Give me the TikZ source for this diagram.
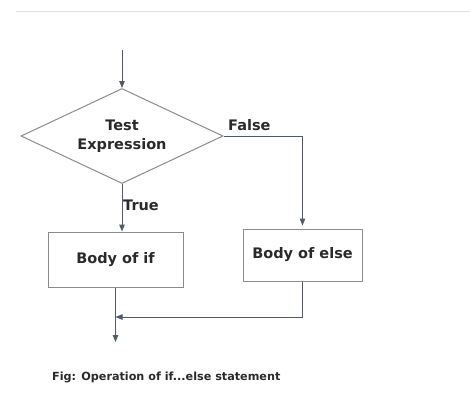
\documentclass[tikz,border=0pt]{standalone}
\usepackage{fontspec}
\setmainfont{DejaVu Sans}
\usetikzlibrary{shapes.geometric,arrows.meta}
\definecolor{linec}{HTML}{4F5A6B}
\definecolor{boxc}{HTML}{8C8C8C}
\definecolor{txtc}{HTML}{2A2A2A}
\tikzset{
  flow/.style={draw=linec, line width=1pt, -{Triangle[length=7pt,width=5.5pt]}},
  plain/.style={draw=linec, line width=1pt},
  boxnode/.style={draw=boxc, line width=1pt, rectangle, inner sep=0pt, font=\bfseries\fontsize{14.5}{17}\selectfont, text=txtc},
  lbl/.style={font=\bfseries\fontsize{14.5}{16}\selectfont, text=txtc, inner sep=0pt},
}
\begin{document}
\begin{tikzpicture}[x=1pt,y=-1pt]
\useasboundingbox (0,0) rectangle (470,408);
\draw[color=black!12, line width=1pt] (16,11) -- (470,11);
\node[boxnode, shape=diamond, aspect=2.13, minimum width=202pt, minimum height=95pt, align=center, font=\bfseries\fontsize{14.5}{19}\selectfont] (d) at (122,136) {Test\\Expression};
\node[boxnode, minimum width=135pt, minimum height=55pt] (bif) at (115.5,259.5) {Body of if};
\node[boxnode, minimum width=119pt, minimum height=52pt] (belse) at (302.5,255) {Body of else};
\coordinate (start) at (122,50);
\coordinate (merge) at (115.5,317);
\coordinate (out) at (115.5,342);
\draw[flow] (start) -- (d.north);
\draw[flow] (d.south) -- (d.south |- bif.north);
\draw[flow, shorten >=3pt] (d.east) -| (belse.north);
\draw[plain] (bif.south) -- (merge);
\draw[flow] (merge) -- (out);
\draw[flow] (belse.south) |- (merge);
\node[lbl, anchor=west] (lfalse) at (228,125) {False};
\node[lbl, anchor=west] (ltrue) at (123,205) {True};
\node[font=\bfseries\fontsize{11.2}{13}\selectfont, text=txtc, anchor=west, inner sep=0pt] (cap) at (52,377) {Fig: Operation of if...else statement};
\end{tikzpicture}
\end{document}
